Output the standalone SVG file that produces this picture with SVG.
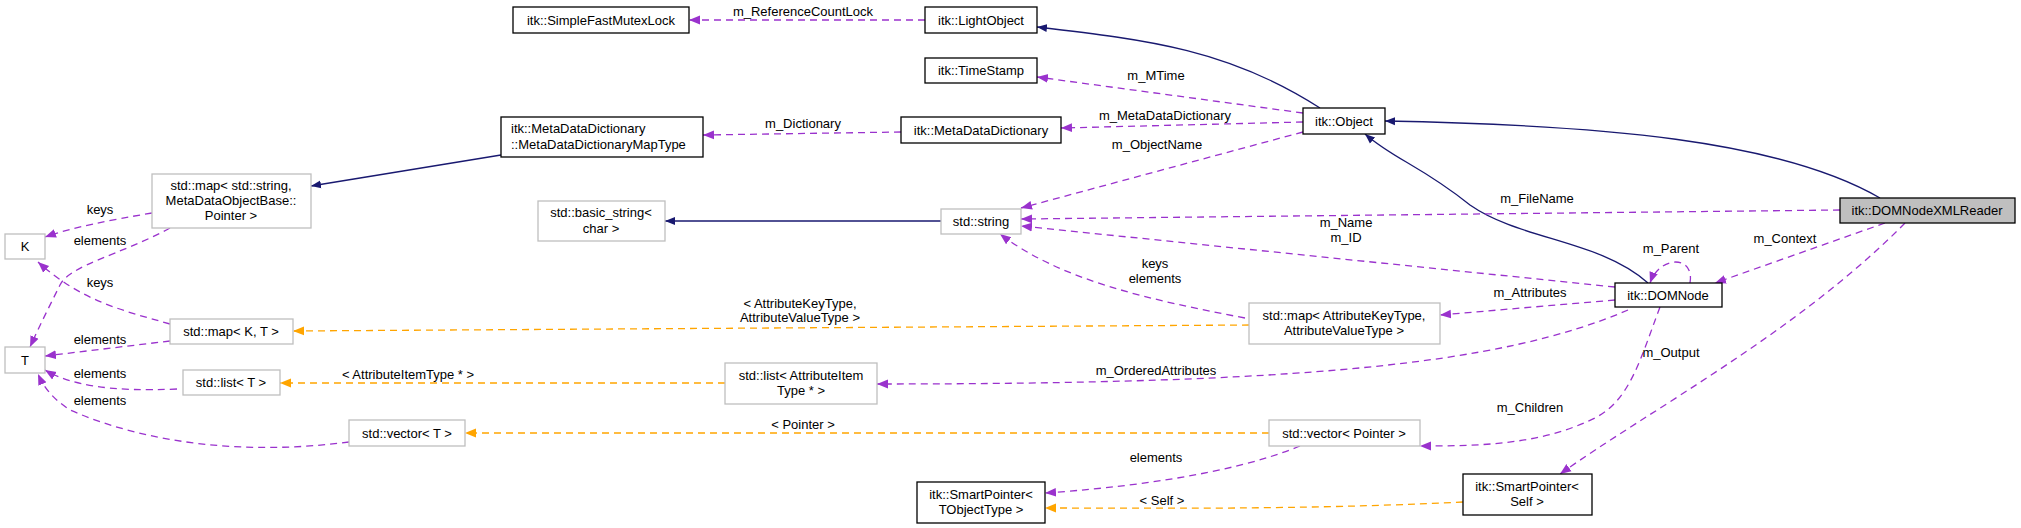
<svg xmlns="http://www.w3.org/2000/svg" width="2021" height="528" viewBox="0 0 2021 528">
<style>
text{font-family:"Liberation Sans",Arial,sans-serif;font-size:13px;fill:#000}
.n rect{fill:#fff;stroke:#000;stroke-width:1.3}
.g rect{fill:#fff;stroke:#bfbfbf;stroke-width:1.3}
.c text{text-anchor:middle}
.inh{fill:none;stroke:#191970;stroke-width:1.3}
.use{fill:none;stroke:#9a32cd;stroke-width:1.3;stroke-dasharray:7,5}
.tpl{fill:none;stroke:#ffa500;stroke-width:1.3;stroke-dasharray:7,5}
</style>
<defs>
<marker id="ab" viewBox="0 0 10 10" refX="10" refY="5" markerWidth="10" markerHeight="10" markerUnits="userSpaceOnUse" orient="auto"><path d="M0,1L10,5L0,9z" fill="#191970"/></marker>
<marker id="ap" viewBox="0 0 10 10" refX="10" refY="5" markerWidth="11" markerHeight="11" markerUnits="userSpaceOnUse" orient="auto"><path d="M0,1L10,5L0,9z" fill="#9a32cd"/></marker>
<marker id="ao" viewBox="0 0 10 10" refX="10" refY="5" markerWidth="11" markerHeight="11" markerUnits="userSpaceOnUse" orient="auto"><path d="M0,1L10,5L0,9z" fill="#ffa500"/></marker>
</defs>
<g id="connectors">
<path class="inh" marker-end="url(#ab)" d="M1320,108 C1230,50 1150,40 1037,27"/>
<path class="inh" marker-end="url(#ab)" d="M1880,198 C1780,140 1600,125 1385,121"/>
<path class="inh" marker-end="url(#ab)" d="M1648,283 C1600,240 1520,240 1470,205 C1420,165 1395,160 1365,134"/>
<path class="inh" marker-end="url(#ab)" d="M501,155 L311,186"/>
<path class="inh" marker-end="url(#ab)" d="M941,221 L665,221"/>
<path class="use" marker-end="url(#ap)" d="M925,20 L689,20"/>
<path class="use" marker-end="url(#ap)" d="M1303,113 L1037,77"/>
<path class="use" marker-end="url(#ap)" d="M1303,122 L1061,128"/>
<path class="use" marker-end="url(#ap)" d="M901,132 L703,135"/>
<path class="use" marker-end="url(#ap)" d="M1303,132 L1021,208"/>
<path class="use" marker-end="url(#ap)" d="M1840,210 L1021,219"/>
<path class="use" marker-end="url(#ap)" d="M1615,287 L1021,226"/>
<path class="use" marker-end="url(#ap)" d="M1245,318 C1150,300 1060,280 1000,234"/>
<path class="use" marker-end="url(#ap)" d="M1615,300 L1440,315"/>
<path class="use" marker-end="url(#ap)" d="M1628,310 C1500,365 1300,384 877,384"/>
<path class="use" marker-end="url(#ap)" d="M1660,307 C1640,360 1630,400 1595,418 C1540,445 1480,446 1420,446"/>
<path class="use" marker-end="url(#ap)" d="M1690,283 C1695,255 1660,255 1650,283"/>
<path class="use" marker-end="url(#ap)" d="M1885,223 L1715,283"/>
<path class="use" marker-end="url(#ap)" d="M1905,223 C1800,330 1650,410 1560,474"/>
<path class="use" marker-end="url(#ap)" d="M1300,446 C1230,475 1120,488 1045,493"/>
<path class="use" marker-end="url(#ap)" d="M152,213 C110,220 70,228 45,237"/>
<path class="use" marker-end="url(#ap)" d="M170,228 C120,255 70,265 60,285 C50,305 40,325 30,347"/>
<path class="use" marker-end="url(#ap)" d="M170,324 C120,310 80,300 38,262"/>
<path class="use" marker-end="url(#ap)" d="M170,341 L45,356"/>
<path class="use" marker-end="url(#ap)" d="M177,389 C110,392 70,385 45,370"/>
<path class="use" marker-end="url(#ap)" d="M349,442 C250,455 150,445 70,410 C55,400 45,390 38,374"/>
<path class="tpl" marker-end="url(#ao)" d="M1249,325 L293,331"/>
<path class="tpl" marker-end="url(#ao)" d="M725,383 L280,383"/>
<path class="tpl" marker-end="url(#ao)" d="M1269,433 L465,433"/>
<path class="tpl" marker-end="url(#ao)" d="M1463,502 C1300,510 1150,508 1045,508"/>
</g>
<g id="edge-labels" class="c">
<text x="803" y="16">m_ReferenceCountLock</text>
<text x="1156" y="80">m_MTime</text>
<text x="1165" y="120">m_MetaDataDictionary</text>
<text x="803" y="128">m_Dictionary</text>
<text x="1157" y="149">m_ObjectName</text>
<text x="1537" y="203">m_FileName</text>
<text x="1346" y="227">m_Name</text>
<text x="1346" y="242">m_ID</text>
<text x="1785" y="243">m_Context</text>
<text x="1671" y="253">m_Parent</text>
<text x="1155" y="268">keys</text>
<text x="1155" y="283">elements</text>
<text x="1530" y="297">m_Attributes</text>
<text x="800" y="308">&lt; AttributeKeyType,</text>
<text x="800" y="322">AttributeValueType &gt;</text>
<text x="1671" y="357">m_Output</text>
<text x="1156" y="375">m_OrderedAttributes</text>
<text x="408" y="379">&lt; AttributeItemType * &gt;</text>
<text x="1530" y="412">m_Children</text>
<text x="803" y="429">&lt; Pointer &gt;</text>
<text x="1156" y="462">elements</text>
<text x="1162" y="505">&lt; Self &gt;</text>
<text x="100" y="214">keys</text>
<text x="100" y="245">elements</text>
<text x="100" y="287">keys</text>
<text x="100" y="344">elements</text>
<text x="100" y="378">elements</text>
<text x="100" y="405">elements</text>
</g>
<g id="SimpleFastMutexLock" class="n c"><rect x="513" y="7" width="176" height="26"/><text x="601" y="25">itk::SimpleFastMutexLock</text></g>
<g id="LightObject" class="n c"><rect x="925" y="7" width="112" height="26"/><text x="981" y="25">itk::LightObject</text></g>
<g id="TimeStamp" class="n c"><rect x="925" y="58" width="112" height="25"/><text x="981" y="75">itk::TimeStamp</text></g>
<g id="MetaDataDictionary" class="n c"><rect x="901" y="117" width="160" height="26"/><text x="981" y="135">itk::MetaDataDictionary</text></g>
<g id="MapType" class="n"><rect x="501" y="117" width="202" height="40"/><text x="511" y="133">itk::MetaDataDictionary</text><text x="511" y="149">::MetaDataDictionaryMapType</text></g>
<g id="Object" class="n c"><rect x="1303" y="108" width="82" height="26"/><text x="1344" y="126">itk::Object</text></g>
<g id="DOMNodeXMLReader" class="c"><rect x="1840" y="198" width="175" height="25" fill="#bfbfbf" stroke="#000" stroke-width="1.3"/><text x="1927" y="215">itk::DOMNodeXMLReader</text></g>
<g id="DOMNode" class="n c"><rect x="1615" y="283" width="107" height="24"/><text x="1668" y="300">itk::DOMNode</text></g>
<g id="stdstring" class="g c"><rect x="941" y="209" width="80" height="25"/><text x="981" y="226">std::string</text></g>
<g id="basicstring" class="g c"><rect x="538" y="201" width="127" height="40"/><text x="601" y="217">std::basic_string&lt;</text><text x="601" y="233">char &gt;</text></g>
<g id="mapStringPointer" class="g c"><rect x="152" y="174" width="159" height="54"/><text x="231" y="190">std::map&lt; std::string,</text><text x="231" y="205">MetaDataObjectBase::</text><text x="231" y="220">Pointer &gt;</text></g>
<g id="K" class="g c"><rect x="5" y="234" width="40" height="25"/><text x="25" y="251">K</text></g>
<g id="T" class="g c"><rect x="5" y="347" width="40" height="26"/><text x="25" y="365">T</text></g>
<g id="mapKT" class="g c"><rect x="170" y="319" width="123" height="25"/><text x="231" y="336">std::map&lt; K, T &gt;</text></g>
<g id="listT" class="g c"><rect x="183" y="370" width="97" height="25"/><text x="231" y="387">std::list&lt; T &gt;</text></g>
<g id="vectorT" class="g c"><rect x="349" y="420" width="116" height="26"/><text x="407" y="438">std::vector&lt; T &gt;</text></g>
<g id="mapAttr" class="g c"><rect x="1249" y="303" width="191" height="41"/><text x="1344" y="320">std::map&lt; AttributeKeyType,</text><text x="1344" y="335">AttributeValueType &gt;</text></g>
<g id="listAttr" class="g c"><rect x="725" y="363" width="152" height="41"/><text x="801" y="380">std::list&lt; AttributeItem</text><text x="801" y="395">Type * &gt;</text></g>
<g id="vectorPointer" class="g c"><rect x="1269" y="420" width="151" height="26"/><text x="1344" y="438">std::vector&lt; Pointer &gt;</text></g>
<g id="SmartPointerT" class="n c"><rect x="917" y="482" width="128" height="41"/><text x="981" y="499">itk::SmartPointer&lt;</text><text x="981" y="514">TObjectType &gt;</text></g>
<g id="SmartPointerSelf" class="n c"><rect x="1463" y="474" width="129" height="41"/><text x="1527" y="491">itk::SmartPointer&lt;</text><text x="1527" y="506">Self &gt;</text></g>
</svg>
